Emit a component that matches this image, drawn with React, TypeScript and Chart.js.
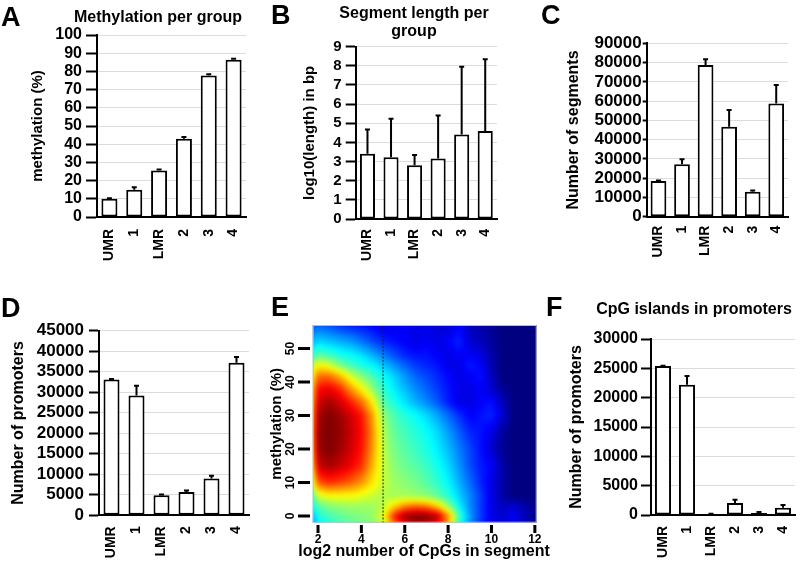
import React, { useEffect, useRef } from 'react';
import { Chart, registerables } from 'chart.js';

Chart.register(...registerables);

const FONT = "'Liberation Sans', Arial, Helvetica, sans-serif";
Chart.defaults.font.family = FONT;
Chart.defaults.font.weight = 'bold';
Chart.defaults.color = '#000';

// ---------- data ----------
const GROUPS = ['UMR', '1', 'LMR', '2', '3', '4'];

// A: methylation per group (%)
const METHYLATION = [10.0, 15.0, 25.6, 43.0, 77.8, 86.4];
const METHYLATION_ERR = [0.3, 1.4, 0.5, 1.0, 0.6, 0.6];
const A_TICKS = [0, 10, 20, 30, 40, 50, 60, 70, 80, 90, 100];

// B: segment length per group (log10 bp)
const SEG_LENGTH = [3.41, 3.23, 2.81, 3.16, 4.42, 4.6];
const SEG_LENGTH_ERR = [1.26, 2.0, 0.53, 2.24, 3.53, 3.74];
const B_TICKS = [0, 1, 2, 3, 4, 5, 6, 7, 8, 9];

// C: number of segments
const SEGMENTS = [18500, 27200, 78800, 46700, 13000, 58800];
const SEGMENTS_ERR = [300, 2600, 2900, 8700, 600, 9500];
const C_TICKS = [0, 10000, 20000, 30000, 40000, 50000, 60000, 70000, 80000, 90000];

// D: number of promoters
const PROMOTERS = [33100, 29200, 4900, 5700, 9000, 37200];
const PROMOTERS_ERR = [150, 2400, 200, 350, 650, 1400];
const D_TICKS = [0, 5000, 10000, 15000, 20000, 25000, 30000, 35000, 40000, 45000];

// F: CpG islands in promoters
const CGI_PROMOTERS = [25400, 22200, 150, 2050, 350, 1250];
const CGI_PROMOTERS_ERR = [60, 1500, 60, 550, 150, 450];
const F_TICKS = [0, 5000, 10000, 15000, 20000, 25000, 30000];

// E: density of segments (log2 #CpGs vs methylation), values 0..100 on a jet scale
const E_X_RANGE = [1.755, 12.085];
const E_Y_RANGE = [-2, 57];
const E_X_TICKS = [2, 4, 6, 8, 10, 12];
const E_Y_TICKS = [0, 10, 20, 30, 40, 50];
const E_CUTOFF = 5;
const HEAT_X = [1.75, 2.0, 2.5, 3.0, 3.5, 4.0, 4.5, 5.0, 5.5, 6.0, 6.5, 7.0, 7.5, 8.0, 8.5, 9.0, 9.5, 10.0, 10.5, 11.0, 12.1];
const HEAT_Y = [57, 52, 48, 45, 42, 38, 34, 30, 25, 20, 15, 10, 6, 3, 0, -2];
const HEAT_Z = [
  [20, 22, 20, 17, 15, 14, 12, 10, 10, 12, 10, 10, 8, 8, 12, 6, 4, 2, 0, 0, 0],
  [30, 34, 32, 30, 28, 24, 20, 16, 14, 12, 10, 12, 10, 12, 16, 8, 6, 3, 0, 0, 0],
  [42, 47, 44, 40, 38, 35, 30, 25, 20, 16, 14, 14, 12, 10, 12, 12, 10, 4, 0, 0, 0],
  [55, 63, 59, 50, 44, 40, 37, 32, 27, 22, 18, 16, 14, 10, 10, 15, 12, 5, 0, 0, 0],
  [63, 76, 76, 69, 58, 50, 44, 38, 33, 27, 22, 19, 16, 13, 10, 12, 14, 6, 0, 0, 0],
  [69, 87, 89, 84, 73, 63, 52, 42, 36, 31, 26, 22, 18, 14, 10, 10, 12, 8, 2, 0, 0],
  [71, 92, 96, 92, 85, 77, 64, 46, 40, 35, 30, 26, 21, 15, 10, 10, 12, 14, 6, 0, 0],
  [73, 96, 100, 97, 92, 86, 72, 52, 45, 41, 38, 34, 29, 23, 17, 12, 14, 16, 8, 0, 0],
  [74, 98, 100, 98, 93, 87, 74, 55, 47, 44, 41, 38, 34, 28, 22, 16, 14, 10, 3, 0, 0],
  [73, 97, 100, 97, 92, 86, 73, 56, 49, 46, 43, 40, 36, 31, 25, 19, 14, 8, 2, 0, 0],
  [68, 92, 96, 93, 89, 83, 70, 57, 51, 48, 46, 43, 39, 34, 27, 20, 15, 12, 4, 0, 0],
  [58, 79, 83, 81, 78, 73, 65, 57, 53, 51, 49, 46, 42, 37, 30, 23, 16, 10, 4, 0, 0],
  [45, 58, 62, 62, 62, 60, 57, 55, 54, 54, 53, 51, 47, 41, 33, 26, 18, 10, 4, 0, 0],
  [38, 46, 50, 52, 53, 53, 53, 56, 66, 74, 77, 75, 67, 52, 37, 26, 18, 10, 6, 8, 0],
  [30, 40, 44, 47, 49, 50, 52, 60, 84, 97, 100, 99, 94, 74, 44, 28, 18, 10, 8, 12, 0],
  [28, 36, 42, 45, 47, 49, 51, 57, 78, 91, 96, 95, 89, 70, 41, 27, 17, 10, 8, 10, 0],
];

// ---------- plugins ----------
const errorBarPlugin = {
  id: 'errorBars',
  afterDatasetsDraw(chart: any, _args: any, opts: any) {
    const errs: number[] = opts.errors || [];
    const meta = chart.getDatasetMeta(0);
    const yScale = chart.scales.y;
    const data = chart.data.datasets[0].data as number[];
    const ctx = chart.ctx;
    ctx.save();
    ctx.strokeStyle = '#000';
    ctx.lineWidth = 2;
    meta.data.forEach((bar: any, i: number) => {
      const top = yScale.getPixelForValue(data[i] + errs[i]);
      ctx.beginPath();
      ctx.moveTo(bar.x, bar.y);
      ctx.lineTo(bar.x, top);
      ctx.moveTo(bar.x - 2.5, top);
      ctx.lineTo(bar.x + 2.5, top);
      ctx.stroke();
    });
    ctx.restore();
  },
};

function jet(v: number): [number, number, number] {
  const c = (t: number) => Math.max(0, Math.min(1, t));
  return [c(1.5 - Math.abs(4 * v - 3)) * 255, c(1.5 - Math.abs(4 * v - 2)) * 255, c(1.5 - Math.abs(4 * v - 1)) * 255];
}

function sampleHeat(x: number, y: number): number {
  const nx = HEAT_X.length;
  const ny = HEAT_Y.length;
  x = Math.max(HEAT_X[0], Math.min(HEAT_X[nx - 1], x));
  y = Math.min(HEAT_Y[0], Math.max(HEAT_Y[ny - 1], y));
  let i = 0;
  while (i < nx - 2 && x > HEAT_X[i + 1]) i++;
  let j = 0;
  while (j < ny - 2 && y < HEAT_Y[j + 1]) j++;
  const tx = (x - HEAT_X[i]) / (HEAT_X[i + 1] - HEAT_X[i]);
  const ty = (HEAT_Y[j] - y) / (HEAT_Y[j] - HEAT_Y[j + 1]);
  const a = HEAT_Z[j][i] * (1 - tx) + HEAT_Z[j][i + 1] * tx;
  const b = HEAT_Z[j + 1][i] * (1 - tx) + HEAT_Z[j + 1][i + 1] * tx;
  return a * (1 - ty) + b * ty;
}

const heatmapPlugin = {
  id: 'heatmap',
  beforeDatasetsDraw(chart: any) {
    const { ctx, chartArea: a, scales } = chart;
    const xs = scales.x;
    const ys = scales.y;
    const m = 8;
    const w = Math.round(a.right - a.left) + 2 * m;
    const h = Math.round(a.bottom - a.top) + 2 * m;
    const off = document.createElement('canvas');
    off.width = w;
    off.height = h;
    const octx = off.getContext('2d')!;
    const img = octx.createImageData(w, h);
    for (let r = 0; r < h; r++) {
      const vy = ys.getValueForPixel(a.top - m + r + 0.5);
      for (let k = 0; k < w; k++) {
        const vx = xs.getValueForPixel(a.left - m + k + 0.5);
        const z = sampleHeat(vx, vy) / 100;
        const [R, G, B] = jet(z);
        const idx = (r * w + k) * 4;
        img.data[idx] = R;
        img.data[idx + 1] = G;
        img.data[idx + 2] = B;
        img.data[idx + 3] = 255;
      }
    }
    octx.putImageData(img, 0, 0);
    ctx.save();
    ctx.beginPath();
    ctx.rect(a.left, a.top, a.right - a.left, a.bottom - a.top);
    ctx.clip();
    ctx.filter = 'blur(2px)';
    ctx.drawImage(off, a.left - m, a.top - m);
    ctx.restore();
  },
  afterDatasetsDraw(chart: any) {
    const { ctx, chartArea: a, scales } = chart;
    const xc = scales.x.getPixelForValue(E_CUTOFF);
    ctx.save();
    ctx.strokeStyle = '#222';
    ctx.lineWidth = 1;
    ctx.setLineDash([2, 1.5]);
    ctx.beginPath();
    ctx.moveTo(xc, a.top);
    ctx.lineTo(xc, a.bottom);
    ctx.stroke();
    ctx.setLineDash([]);
    ctx.strokeStyle = '#b8bcc8';
    ctx.strokeRect(a.left + 0.5, a.top + 0.5, a.right - a.left - 1, a.bottom - a.top - 1);
    // R-style tick marks, offset from the plot box
    ctx.strokeStyle = '#000';
    ctx.lineWidth = 3;
    ctx.beginPath();
    scales.x.ticks.forEach((t: any) => {
      const px = scales.x.getPixelForValue(t.value);
      ctx.moveTo(px, a.bottom + 2.3);
      ctx.lineTo(px, a.bottom + 10.3);
    });
    scales.y.ticks.forEach((t: any) => {
      const py = scales.y.getPixelForValue(t.value);
      ctx.moveTo(a.left - 14.7, py);
      ctx.lineTo(a.left - 2.7, py);
    });
    ctx.stroke();
    ctx.restore();
  },
};

// ---------- configs ----------
type BarSpec = {
  values: number[];
  errors: number[];
  ticks: number[];
  yTitle: string;
  yTitleSize: number;
  yTitleCenter: number;
  axisLeft: number;
  padTop: number;
  padRight: number;
  xHeight: number;
  barPct: number;
  tickSize: number;
  tickLen: number;
  tickPad: number;
  xLabelPad: number;
};

function barConfig(s: BarSpec): any {
  return {
    type: 'bar',
    data: {
      labels: GROUPS,
      datasets: [
        {
          data: s.values,
          backgroundColor: '#ffffff',
          borderColor: '#000000',
          borderWidth: 2,
          borderSkipped: false,
          barPercentage: s.barPct,
          categoryPercentage: 1,
        },
      ],
    },
    options: {
      animation: false,
      responsive: false,
      devicePixelRatio: 1,
      layout: { padding: { top: s.padTop, right: s.padRight, bottom: 0, left: 0 } },
      plugins: {
        legend: { display: false },
        tooltip: { enabled: false },
        errorBars: { errors: s.errors },
      },
      scales: {
        x: {
          type: 'category',
          offset: true,
          grid: { display: false, drawTicks: false },
          border: { display: true, color: '#000', width: 2 },
          ticks: {
            minRotation: 90,
            maxRotation: 90,
            autoSkip: false,
            padding: s.xLabelPad,
            font: { size: 14, weight: 'bold', family: FONT },
            color: '#000',
          },
          afterFit: (sc: any) => {
            sc.height = s.xHeight;
            sc.paddingLeft = 0;
            sc.paddingRight = 0;
          },
        },
        y: {
          type: 'linear',
          min: s.ticks[0],
          max: s.ticks[s.ticks.length - 1],
          grid: { color: '#dcdcdc', lineWidth: 1, tickColor: '#000', tickLength: s.tickLen, tickWidth: 2 },
          border: { display: true, color: '#000', width: 2 },
          ticks: {
            autoSkip: false,
            padding: s.tickPad,
            font: { size: s.tickSize, weight: 'bold', family: FONT },
            color: '#000',
            callback: (v: any) => String(v),
          },
          afterBuildTicks: (sc: any) => {
            sc.ticks = s.ticks.map((v) => ({ value: v }));
          },
          afterFit: (sc: any) => {
            sc.width = s.axisLeft;
          },
          title: {
            display: true,
            text: s.yTitle,
            color: '#000',
            font: { size: s.yTitleSize, weight: 'bold', family: FONT },
            padding: { top: s.yTitleCenter - s.yTitleSize * 0.6, bottom: 0 },
          },
        },
      },
    },
    plugins: [errorBarPlugin],
  };
}

function heatConfig(): any {
  return {
    type: 'scatter',
    data: { datasets: [{ data: [], pointRadius: 0 }] },
    options: {
      animation: false,
      responsive: false,
      devicePixelRatio: 1,
      layout: { padding: { top: 45, right: 13.3, bottom: 0, left: 0 } },
      plugins: { legend: { display: false }, tooltip: { enabled: false } },
      scales: {
        x: {
          type: 'linear',
          min: E_X_RANGE[0],
          max: E_X_RANGE[1],
          afterBuildTicks: (sc: any) => {
            sc.ticks = E_X_TICKS.map((v) => ({ value: v }));
          },
          grid: { display: false, drawTicks: false, tickLength: 0 },
          border: { display: false },
          ticks: { autoSkip: false, padding: 10, maxRotation: 0, font: { size: 12, weight: 'bold', family: FONT }, color: '#000' },
          afterFit: (sc: any) => {
            sc.height = 49.3;
            sc.paddingLeft = 0;
            sc.paddingRight = 0;
          },
        },
        y: {
          type: 'linear',
          min: E_Y_RANGE[0],
          max: E_Y_RANGE[1],
          afterBuildTicks: (sc: any) => {
            sc.ticks = E_Y_TICKS.map((v) => ({ value: v }));
          },
          grid: { display: false, drawTicks: false, tickLength: 0 },
          border: { display: false },
          ticks: {
            autoSkip: false,
            padding: 15,
            minRotation: 90,
            maxRotation: 90,
            crossAlign: 'center',
            font: { size: 12, weight: 'bold', family: FONT },
            color: '#000',
          },
          title: {
            display: true,
            text: 'methylation (%)',
            color: '#000',
            font: { size: 15, weight: 'bold', family: FONT },
            padding: { top: 8, bottom: 0 },
          },
          afterFit: (sc: any) => {
            sc.width = 52.7;
            sc.paddingTop = 0;
            sc.paddingBottom = 0;
          },
        },
      },
    },
    plugins: [heatmapPlugin],
  };
}

// ---------- components ----------
function ChartBox(props: { left: number; top: number; width: number; height: number; make: () => any }) {
  const ref = useRef<HTMLCanvasElement>(null);
  useEffect(() => {
    const chart = new Chart(ref.current as HTMLCanvasElement, props.make());
    return () => chart.destroy();
  }, []);
  return (
    <canvas
      ref={ref}
      width={props.width}
      height={props.height}
      style={{ position: 'absolute', left: props.left, top: props.top, width: props.width, height: props.height }}
    />
  );
}

function Label(props: { text: string; cx?: number; left?: number; baseline: number; size: number }) {
  const top = props.baseline - 0.8465 * props.size;
  const style: any = {
    position: 'absolute',
    top,
    fontFamily: FONT,
    fontWeight: 'bold',
    fontSize: props.size,
    lineHeight: props.size + 'px',
    whiteSpace: 'nowrap',
    color: '#000',
  };
  if (props.cx !== undefined) {
    style.left = props.cx - 150;
    style.width = 300;
    style.textAlign = 'center';
  } else {
    style.left = props.left;
  }
  return <div style={style}>{props.text}</div>;
}

export default function App() {
  return (
    <div style={{ position: 'absolute', left: 0, top: 0, width: 800, height: 572, background: '#fff', overflow: 'hidden' }}>
      <ChartBox
        left={0}
        top={0}
        width={260}
        height={280}
        make={() =>
          barConfig({
            values: METHYLATION,
            errors: METHYLATION_ERR,
            ticks: A_TICKS,
            yTitle: 'methylation (%)',
            yTitleSize: 15,
            yTitleCenter: 38,
            axisLeft: 97,
            padTop: 35,
            padRight: 14,
            xHeight: 63,
            barPct: 0.645,
            tickSize: 16,
            tickLen: 11,
            tickPad: 4,
            xLabelPad: 12,
          })
        }
      />
      <ChartBox
        left={260}
        top={0}
        width={270}
        height={280}
        make={() =>
          barConfig({
            values: SEG_LENGTH,
            errors: SEG_LENGTH_ERR,
            ticks: B_TICKS,
            yTitle: 'log10(length) in bp',
            yTitleSize: 15,
            yTitleCenter: 50,
            axisLeft: 95.7,
            padTop: 46.7,
            padRight: 33,
            xHeight: 61,
            barPct: 0.64,
            tickSize: 15,
            tickLen: 10,
            tickPad: 4,
            xLabelPad: 10,
          })
        }
      />
      <ChartBox
        left={530}
        top={0}
        width={270}
        height={280}
        make={() =>
          barConfig({
            values: SEGMENTS,
            errors: SEGMENTS_ERR,
            ticks: C_TICKS,
            yTitle: 'Number of segments',
            yTitleSize: 16,
            yTitleCenter: 43.3,
            axisLeft: 116.7,
            padTop: 43.3,
            padRight: 12,
            xHeight: 63.3,
            barPct: 0.667,
            tickSize: 17,
            tickLen: 4,
            tickPad: 1,
            xLabelPad: 9,
          })
        }
      />
      <ChartBox
        left={0}
        top={280}
        width={260}
        height={292}
        make={() =>
          barConfig({
            values: PROMOTERS,
            errors: PROMOTERS_ERR,
            ticks: D_TICKS,
            yTitle: 'Number of promoters',
            yTitleSize: 16,
            yTitleCenter: 19,
            axisLeft: 99,
            padTop: 50.7,
            padRight: 11,
            xHeight: 56.7,
            barPct: 0.64,
            tickSize: 17,
            tickLen: 10,
            tickPad: 5,
            xLabelPad: 11,
          })
        }
      />
      <ChartBox left={260} top={280} width={290} height={292} make={heatConfig} />
      <ChartBox
        left={550}
        top={280}
        width={250}
        height={292}
        make={() =>
          barConfig({
            values: CGI_PROMOTERS,
            errors: CGI_PROMOTERS_ERR,
            ticks: F_TICKS,
            yTitle: 'Number of promoters',
            yTitleSize: 16,
            yTitleCenter: 27,
            axisLeft: 101,
            padTop: 59,
            padRight: 5,
            xHeight: 57,
            barPct: 0.67,
            tickSize: 16,
            tickLen: 10,
            tickPad: 3,
            xLabelPad: 11,
          })
        }
      />

      <Label text="Methylation per group" cx={158} baseline={22.7} size={16} />
      <Label text="Segment length per" cx={414} baseline={18.5} size={16} />
      <Label text="group" cx={414} baseline={36.5} size={16} />
      <Label text="CpG islands in promoters" cx={694} baseline={314.7} size={16} />
      <Label text="log2 number of CpGs in segment" cx={424} baseline={557} size={16} />

      <Label text="A" left={1} baseline={27} size={27} />
      <Label text="B" left={271} baseline={25} size={27} />
      <Label text="C" left={541} baseline={25} size={27} />
      <Label text="D" left={1} baseline={318} size={27} />
      <Label text="E" left={271} baseline={317} size={27} />
      <Label text="F" left={546} baseline={317} size={27} />
    </div>
  );
}
